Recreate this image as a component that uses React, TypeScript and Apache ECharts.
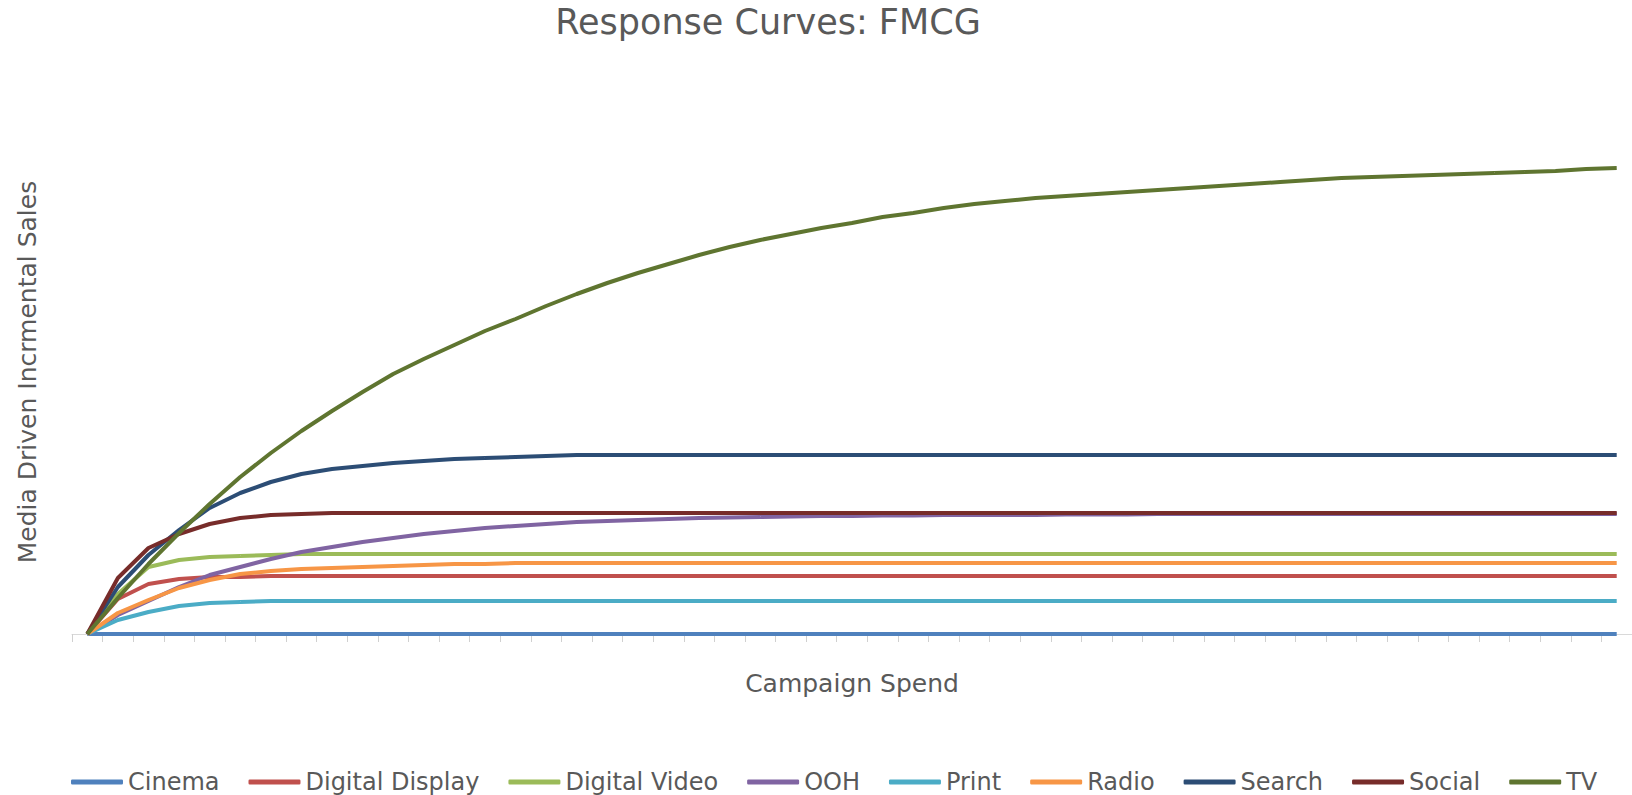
import React, { useEffect, useRef } from "react";
import * as echarts from "echarts";

const categories = [
  "1", "2", "3", "4", "5", "6", "7", "8", "9", "10",
  "11", "12", "13", "14", "15", "16", "17", "18", "19", "20",
  "21", "22", "23", "24", "25", "26", "27", "28", "29", "30",
  "31", "32", "33", "34", "35", "36", "37", "38", "39", "40",
  "41", "42", "43", "44", "45", "46", "47", "48", "49", "50",
  "51",
];

const seriesNames = [
  "Cinema", "Digital Display", "Digital Video", "OOH", "Print",
  "Radio", "Search", "Social", "TV",
];

const cinema = [
  0, 0, 0, 0, 0, 0, 0, 0, 0, 0,
  0, 0, 0, 0, 0, 0, 0, 0, 0, 0,
  0, 0, 0, 0, 0, 0, 0, 0, 0, 0,
  0, 0, 0, 0, 0, 0, 0, 0, 0, 0,
  0, 0, 0, 0, 0, 0, 0, 0, 0, 0,
  0,
];

const digitalDisplay = [
  0, 35, 50, 55, 57, 57, 58, 58, 58, 58,
  58, 58, 58, 58, 58, 58, 58, 58, 58, 58,
  58, 58, 58, 58, 58, 58, 58, 58, 58, 58,
  58, 58, 58, 58, 58, 58, 58, 58, 58, 58,
  58, 58, 58, 58, 58, 58, 58, 58, 58, 58,
  58,
];

const digitalVideo = [
  0, 40, 67, 74, 77, 78, 79, 80, 80, 80,
  80, 80, 80, 80, 80, 80, 80, 80, 80, 80,
  80, 80, 80, 80, 80, 80, 80, 80, 80, 80,
  80, 80, 80, 80, 80, 80, 80, 80, 80, 80,
  80, 80, 80, 80, 80, 80, 80, 80, 80, 80,
  80,
];

const ooh = [
  0, 19, 33, 47, 59, 67, 75, 82, 87, 92,
  96, 100, 103, 106, 108, 110, 112, 113, 114, 115,
  116, 116.5, 117, 117.5, 118, 118, 118.5, 118.5, 119, 119,
  119, 119, 119.5, 119.5, 119.5, 120, 120, 120, 120, 120,
  120, 120, 120, 120, 120, 120, 120, 120, 120, 120,
  120,
];

const print = [
  0, 14, 22, 28, 31, 32, 33, 33, 33, 33,
  33, 33, 33, 33, 33, 33, 33, 33, 33, 33,
  33, 33, 33, 33, 33, 33, 33, 33, 33, 33,
  33, 33, 33, 33, 33, 33, 33, 33, 33, 33,
  33, 33, 33, 33, 33, 33, 33, 33, 33, 33,
  33,
];

const radio = [
  0, 21, 34, 46, 54, 60, 63, 65, 66, 67,
  68, 69, 70, 70, 71, 71, 71, 71, 71, 71,
  71, 71, 71, 71, 71, 71, 71, 71, 71, 71,
  71, 71, 71, 71, 71, 71, 71, 71, 71, 71,
  71, 71, 71, 71, 71, 71, 71, 71, 71, 71,
  71,
];

const search = [
  0, 47, 79, 104, 126, 141, 152, 160, 165, 168,
  171, 173, 175, 176, 177, 178, 179, 179, 179, 179,
  179, 179, 179, 179, 179, 179, 179, 179, 179, 179,
  179, 179, 179, 179, 179, 179, 179, 179, 179, 179,
  179, 179, 179, 179, 179, 179, 179, 179, 179, 179,
  179,
];

const social = [
  0, 56, 86, 100, 110, 116, 119, 120, 121, 121,
  121, 121, 121, 121, 121, 121, 121, 121, 121, 121,
  121, 121, 121, 121, 121, 121, 121, 121, 121, 121,
  121, 121, 121, 121, 121, 121, 121, 121, 121, 121,
  121, 121, 121, 121, 121, 121, 121, 121, 121, 121,
  121,
];

const tv = [
  0, 36, 70, 101, 130, 157, 181, 203, 223, 242,
  260, 275, 289, 303, 315, 328, 340, 351, 361, 370,
  379, 387, 394, 400, 406, 411, 417, 421, 426, 430,
  433, 436, 438, 440, 442, 444, 446, 448, 450, 452,
  454, 456, 457, 458, 459, 460, 461, 462, 463, 465,
  466,
];

const seriesValues = [cinema, digitalDisplay, digitalVideo, ooh, print, radio, search, social, tv];

const colors = [
  "#4F81BD", "#C0504D", "#9BBB59", "#8064A2", "#4BACC6",
  "#F79646", "#2C4D75", "#772C2A", "#5F7530",
];

const FONT = "DejaVu Sans";
const TEXT_COLOR = "#595959";

export default function App() {
  const ref = useRef<HTMLDivElement>(null);

  useEffect(() => {
    if (!ref.current) return;
    const chart = echarts.init(ref.current, undefined, { renderer: "svg" });
    chart.setOption({
      animation: false,
      backgroundColor: "#ffffff",
      color: colors,
      title: {
        text: "Response Curves: FMCG",
        left: 768,
        top: 4,
        padding: 0,
        textAlign: "center",
        textStyle: {
          fontFamily: FONT,
          fontSize: 35,
          fontWeight: "normal",
          color: TEXT_COLOR,
        },
      },
      legend: {
        data: seriesNames,
        left: 71,
        top: 770,
        padding: 0,
        itemWidth: 52,
        itemHeight: 5,
        itemGap: 29,
        icon: "roundRect",
        textStyle: {
          fontFamily: FONT,
          fontSize: 24,
          lineHeight: 24,
          color: TEXT_COLOR,
        },
      },
      grid: {
        left: 72,
        right: -18,
        top: 110,
        bottom: 161,
        containLabel: false,
      },
      xAxis: {
        type: "category",
        data: categories,
        boundaryGap: true,
        name: "Campaign Spend",
        nameLocation: "middle",
        nameGap: 37,
        nameTextStyle: {
          fontFamily: FONT,
          fontSize: 25,
          color: TEXT_COLOR,
        },
        axisLine: { show: true, lineStyle: { color: "#D9D9D9", width: 1 } },
        axisTick: { show: true, interval: 0, length: 8, lineStyle: { color: "#D0D0D0" } },
        axisLabel: { show: false },
        splitLine: { show: false },
      },
      yAxis: {
        type: "value",
        min: 0,
        max: 524,
        name: "Media Driven Incrmental Sales",
        nameLocation: "middle",
        nameGap: 32,
        nameTextStyle: {
          fontFamily: FONT,
          fontSize: 25,
          color: TEXT_COLOR,
        },
        axisLine: { show: false },
        axisTick: { show: false },
        axisLabel: { show: false },
        splitLine: { show: false },
      },
      series: seriesNames.map((name, i) => ({
        name,
        type: "line",
        data: seriesValues[i],
        showSymbol: false,
        symbol: "none",
        smooth: false,
        lineStyle: { width: 4, color: colors[i] },
        itemStyle: { color: colors[i] },
        emphasis: { disabled: true },
      })),
    });
    return () => chart.dispose();
  }, []);

  return (
    <div
      ref={ref}
      style={{ position: "fixed", left: 0, top: 0, width: 1632, height: 795 }}
    />
  );
}
